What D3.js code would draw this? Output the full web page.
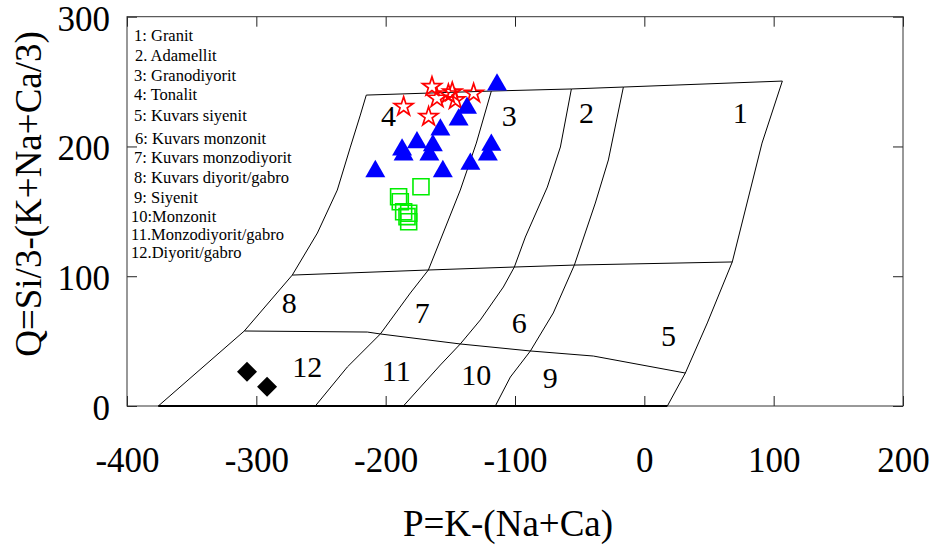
<!DOCTYPE html>
<html>
<head>
<meta charset="utf-8">
<script src="https://cdn.jsdelivr.net/npm/d3@7"></script>
<style>
  html, body { margin: 0; padding: 0; background: #fff; }
  svg { display: block; font-family: "Liberation Serif", "Times New Roman", serif; }
</style>
</head>
<body>
<svg id="chart" width="937" height="550"></svg>
<script>
// Axis ticks
const xTicks = [-400, -300, -200, -100, 0, 100, 200];
const yTicks = [0, 100, 200, 300];

// Field boundaries of the P-Q classification diagram, as [P, Q] vertices
const outerLeft  = [[-375.8, 0], [-309.3, 57.8], [-272.2, 100.9], [-252.8, 133.3], [-237.4, 166.4], [-227.3, 199.5], [-219.6, 224.2], [-215.0, 239.6]];
const topEdge    = [[-215.0, 239.6], [-118.3, 242.7], [-56.4, 244.3], [-16.2, 245.8], [106.7, 250.4]];
const outerRight = [[106.7, 250.4], [91.0, 202.6], [68.0, 111.0], [48.7, 64.0], [31.7, 25.4], [17.8, 0]];
const bottomEdge = [[-375.8, 0], [17.8, 0]];
const divideA    = [[-118.3, 242.7], [-129.9, 202.6], [-142.3, 166.4], [-157.7, 127.9], [-167.0, 104.8], [-180.9, 87.1], [-204.1, 55.5], [-229.6, 30.1], [-254.4, 0]];
const divideB    = [[-56.4, 244.3], [-64.9, 199.6], [-75.0, 168.7], [-92.0, 130.2], [-100.5, 107.1], [-109.0, 91.7], [-126.8, 66.3], [-142.3, 47.8], [-157.7, 31.6], [-186.3, 0]];
const divideC    = [[-16.2, 245.8], [-27.8, 189.6], [-37.9, 156.4], [-54.1, 108.6], [-70.4, 71.7], [-88.1, 42.4], [-103.6, 22.3], [-115.2, 0]];
const upperCross = [[-272.2, 100.9], [-167.0, 104.8], [-100.5, 107.1], [-54.1, 108.6], [68.0, 111.0]];
const lowerCross = [[-309.3, 57.8], [-214.2, 57.0], [-204.1, 55.5], [-142.3, 47.8], [-88.1, 42.4], [-39.4, 38.5], [31.7, 25.4]];

// Field numbers and their [P, Q] anchor
const fieldNames = ["1", "2", "3", "4", "5", "6", "7", "8", "9", "10", "11", "12"];
const fieldP = [74.2, -44.8, -104.4, -197.9, 18.6, -96.7, -171.7, -274.5, -72.7, -129.9, -191.8, -260.6];
const fieldQ = [226.5, 225.8, 223.5, 224.2, 54.7, 64.7, 71.7, 79.4, 22.3, 23.9, 27.7, 30.1];

// Key to the field numbers
const legendLines = [
  "1: Granit", "2. Adamellit", "3: Granodiyorit", "4: Tonalit", "5: Kuvars siyenit",
  "6: Kuvars monzonit", "7: Kuvars monzodiyorit", "8: Kuvars diyorit/gabro",
  "9: Siyenit", "10:Monzonit", "11.Monzodiyorit/gabro", "12.Diyorit/gabro"
];

// Samples (P, Q)
const starP = [-186.1, -164.2, -160.3, -166.8, -151.5, -148.5, -146.1, -132.0];
const starQ = [230.6, 246.0, 237.1, 222.9, 240.4, 241.9, 235.8, 240.9];

const triP = [-113.9, -137.1, -143.6, -157.7, -187.3, -186.1, -175.8, -163.5, -166.2, -208.0, -155.8, -134.5, -118.3, -121.0];
const triQ = [247.6, 229.6, 220.6, 212.9, 197.5, 193.6, 203.0, 200.7, 193.6, 180.8, 180.8, 186.5, 201.1, 193.6];

const sqP = [-172.7, -190.0, -188.7, -186.1, -182.2, -183.5, -182.2];
const sqQ = [169.0, 161.3, 157.4, 149.7, 148.5, 145.9, 142.0];

const diaP = [-307.2, -291.7];
const diaQ = [26.4, 14.9];

// ---- layout ----
const svg = d3.select("#chart");
const plot = { left: 127, right: 903, top: 16.7, bottom: 406 };

const x = d3.scaleLinear().domain([-400, 200]).range([plot.left, plot.right]);
const y = d3.scaleLinear().domain([0, 300]).range([plot.bottom, plot.top]);

const plainNumber = d => String(d);   // hyphen-minus for negative values

// Axes with inward ticks on all four sides
function styleAxis(g) {
  g.attr("font-family", '"Liberation Serif", "Times New Roman", serif');
  g.select(".domain").remove();
  g.selectAll(".tick line").attr("stroke", "#222").attr("stroke-width", 1);
  g.selectAll(".tick text").attr("fill", "#000");
}

svg.append("g")
  .attr("transform", `translate(0,${plot.bottom})`)
  .call(d3.axisBottom(x).tickValues(xTicks).tickSizeInner(-10).tickSizeOuter(0).tickPadding(41).tickFormat(plainNumber))
  .call(styleAxis)
  .call(g => g.selectAll(".tick text").attr("font-size", 35));

svg.append("g")
  .attr("transform", `translate(0,${plot.top})`)
  .call(d3.axisTop(x).tickValues(xTicks).tickSizeInner(-10).tickSizeOuter(0).tickFormat(""))
  .call(styleAxis);

svg.append("g")
  .attr("transform", `translate(${plot.left},0)`)
  .call(d3.axisLeft(y).tickValues(yTicks).tickSizeInner(-10).tickSizeOuter(0).tickPadding(17).tickFormat(plainNumber))
  .call(styleAxis)
  .call(g => g.selectAll(".tick text").attr("font-size", 35).attr("dy", "0.38em"));

svg.append("g")
  .attr("transform", `translate(${plot.right},0)`)
  .call(d3.axisRight(y).tickValues(yTicks).tickSizeInner(-10).tickSizeOuter(0).tickFormat(""))
  .call(styleAxis);

// Frame
svg.append("rect")
  .attr("x", plot.left).attr("y", plot.top)
  .attr("width", plot.right - plot.left).attr("height", plot.bottom - plot.top)
  .attr("fill", "none").attr("stroke", "#333").attr("stroke-width", 1);

// Axis titles
svg.append("text")
  .attr("x", 508).attr("y", 536)
  .attr("text-anchor", "middle").attr("font-size", 37)
  .text("P=K-(Na+Ca)");

svg.append("text")
  .attr("transform", "translate(41,194) rotate(-90)")
  .attr("text-anchor", "middle").attr("font-size", 37)
  .text("Q=Si/3-(K+Na+Ca/3)");

// Field boundaries
const line = d3.line().x(d => x(d[0])).y(d => y(d[1]));
const boundaries = [outerLeft, topEdge, outerRight, divideA, divideB, divideC, upperCross, lowerCross];
svg.append("g").selectAll("path").data(boundaries).join("path")
  .attr("d", line).attr("fill", "none").attr("stroke", "#000").attr("stroke-width", 1);
svg.append("path").datum(bottomEdge)
  .attr("d", line).attr("fill", "none").attr("stroke", "#000").attr("stroke-width", 2);

// Field numbers
svg.append("g").selectAll("text").data(fieldNames).join("text")
  .attr("x", (d, i) => x(fieldP[i]))
  .attr("y", (d, i) => y(fieldQ[i]))
  .attr("dy", "0.35em")
  .attr("text-anchor", "middle")
  .attr("font-size", 30)
  .text(d => d);

// Key
const keyX = [134, 135, 134, 134, 134, 135, 134, 134, 134, 131, 131, 131];
const keyY = [41, 61, 81, 100, 121, 144, 163, 183, 203, 222, 240, 258];
svg.append("g").selectAll("text").data(legendLines).join("text")
  .attr("x", (d, i) => keyX[i])
  .attr("y", (d, i) => keyY[i])
  .attr("font-size", 16.5)
  .text(d => d);

// Samples
const stars = d3.range(starP.length).map(i => [starP[i], starQ[i]]);
const tris = d3.range(triP.length).map(i => [triP[i], triQ[i]]);
const squares = d3.range(sqP.length).map(i => [sqP[i], sqQ[i]]);
const diamonds = d3.range(diaP.length).map(i => [diaP[i], diaQ[i]]);

svg.append("g").selectAll("path").data(squares).join("path")
  .attr("transform", d => `translate(${x(d[0])},${y(d[1])})`)
  .attr("d", d3.symbol(d3.symbolSquare, 256))
  .attr("fill", "none").attr("stroke", "#00ee00").attr("stroke-width", 1.6);

svg.append("g").selectAll("path").data(stars).join("path")
  .attr("transform", d => `translate(${x(d[0])},${y(d[1])})`)
  .attr("d", d3.symbol(d3.symbolStar, 110))
  .attr("fill", "none").attr("stroke", "#ff0000").attr("stroke-width", 1.7);

svg.append("g").selectAll("path").data(tris).join("path")
  .attr("transform", d => `translate(${x(d[0])},${y(d[1])})`)
  .attr("d", d3.symbol(d3.symbolTriangle, 173))
  .attr("fill", "#0000ff");

svg.append("g").selectAll("path").data(diamonds).join("path")
  .attr("transform", d => `translate(${x(d[0])},${y(d[1])}) rotate(45)`)
  .attr("d", d3.symbol(d3.symbolSquare, 200))
  .attr("fill", "#000");
</script>
</body>
</html>
